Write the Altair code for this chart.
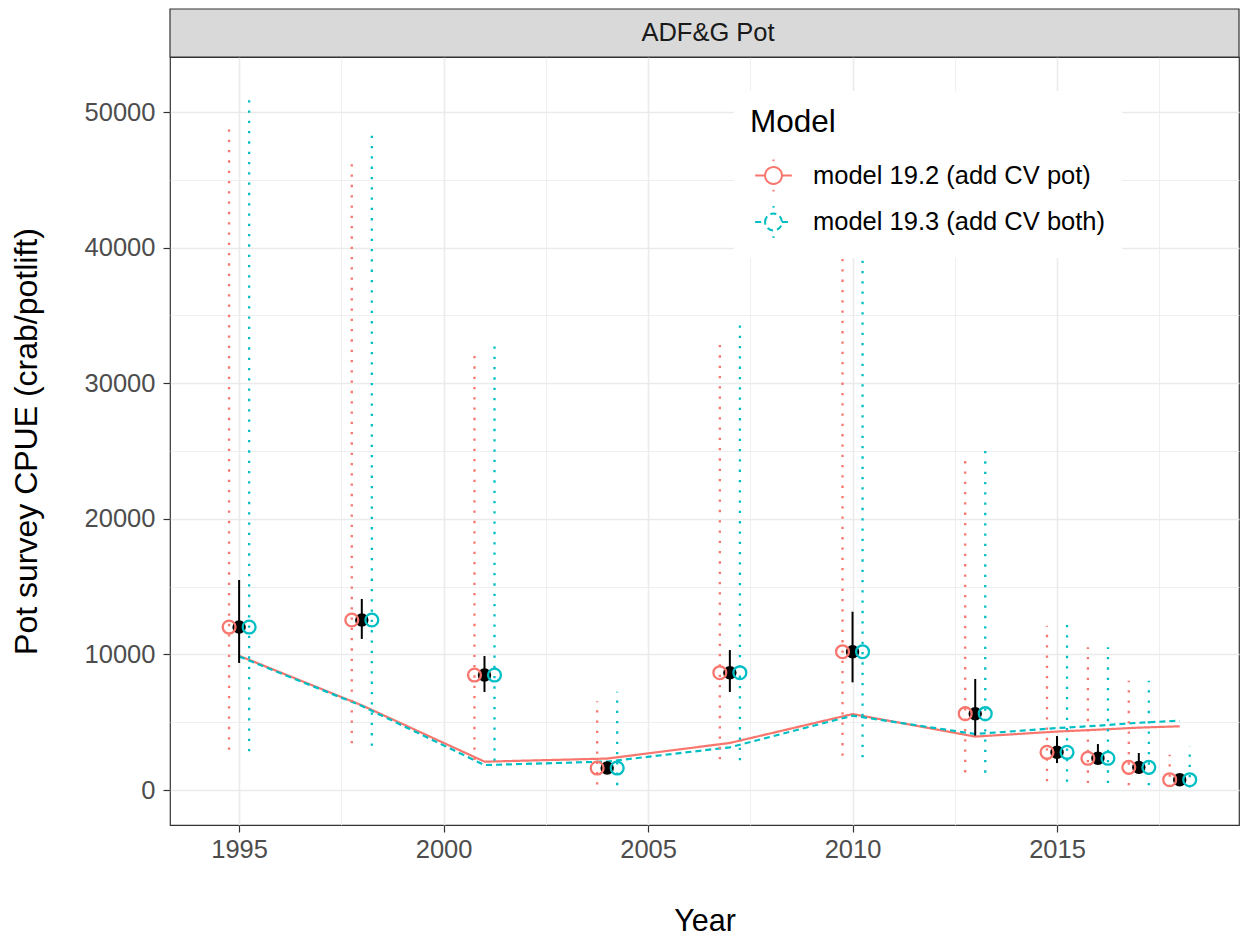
import altair as alt
import pandas as pd

FONT = "Liberation Sans"

panel_label = ["ADF&G Pot"]
model_names = ["model 19.2 (add CV pot)", "model 19.3 (add CV both)"]
model_colors = ["#F8766D", "#00BFC4"]
model_dodge = [-0.245, 0.245]

years = [1995, 1998, 2001, 2004, 2007, 2010, 2013, 2015, 2016, 2017, 2018]
obs = [12020, 12540, 8480, 1620, 8650, 10200, 5630, 2780, 2340, 1670, 760]
obs_lo = [9370, 11140, 7230, 1250, 7230, 7940, 4010, 1990, 1920, 1180, 560]
obs_hi = [15490, 14090, 9880, 2090, 10320, 13150, 8190, 3980, 3390, 2730, 1030]

pred_192 = [9900, 6250, 2090, 2320, 3470, 5600, 3940, 4310, 4450, 4600, 4700]
pred_193 = [9850, 6200, 1840, 2100, 3150, 5480, 4130, 4570, 4740, 4960, 5110]

ci_lo_192 = [2970, 3440, 2210, 400, 2260, 2530, 1300, 640, 520, 350, 220]
ci_hi_192 = [49200, 46530, 32520, 6540, 33300, 41100, 24790, 12120, 10520, 8060, 2600]
ci_lo_193 = [2850, 3270, 2160, 360, 2190, 2410, 1280, 610, 520, 350, 180]
ci_hi_193 = [51250, 48670, 33240, 7250, 34730, 43200, 25520, 12730, 10520, 8060, 3220]

x_ticks = [1995, 1997.5, 2000, 2002.5, 2005, 2007.5, 2010, 2012.5, 2015, 2017.5]
y_ticks = [0, 5000, 10000, 15000, 20000, 25000, 30000, 35000, 40000, 45000, 50000]
x_domain = [1993.31, 2019.45]
y_domain = [-2580, 54060]

# ---- tables ----
obs_df = pd.DataFrame({"year": years, "obs": obs, "lo": obs_lo, "hi": obs_hi})
rows = []
for name, dodge, pred, lo, hi in [
    (model_names[0], model_dodge[0], pred_192, ci_lo_192, ci_hi_192),
    (model_names[1], model_dodge[1], pred_193, ci_lo_193, ci_hi_193),
]:
    for i, yr in enumerate(years):
        rows.append({"model": name, "year": yr, "xd": yr + dodge,
                     "obs": obs[i], "pred": pred[i], "lo": lo[i], "hi": hi[i]})
mod_df = pd.DataFrame(rows)
strip_df = pd.DataFrame({"panel": panel_label})

W, H = 1069, 768
STRIP = 48
TXT = 25.5

xs = alt.Scale(domain=x_domain, nice=False, zero=False)
ys = alt.Scale(domain=y_domain, nice=False, zero=False)

x_axis = alt.Axis(
    values=x_ticks, format="d",
    labelExpr="datum.value % 5 === 0 ? datum.label : ''",
    gridWidth={"condition": {"test": "datum.value % 5 === 0", "value": 1.6}, "value": 0.8},
    tickOpacity={"condition": {"test": "datum.value % 5 === 0", "value": 1}, "value": 0},
    labelOverlap=False, labelFlush=False, labelPadding=5, titlePadding=44,
    titleFontSize=30.5,
)
y_axis = alt.Axis(
    values=y_ticks, format="d",
    labelExpr="datum.value % 10000 === 0 ? datum.label : ''",
    gridWidth={"condition": {"test": "datum.value % 10000 === 0", "value": 1.6}, "value": 0.8},
    tickOpacity={"condition": {"test": "datum.value % 10000 === 0", "value": 1}, "value": 0},
    labelOverlap=False, labelFlush=False, labelPadding=8, titlePadding=41,
    titleFontSize=32,
)

XT = "Year"
YT = "Pot survey CPUE (crab/potlift)"

def X(field):
    return alt.X(f"{field}:Q", scale=xs, axis=x_axis, title=XT)

def Y(field):
    return alt.Y(f"{field}:Q", scale=ys, axis=y_axis, title=YT)

color_scale = alt.Scale(domain=model_names, range=model_colors)
dash_scale = alt.Scale(domain=model_names, range=[[1, 0], [6, 4]])

SYM = ("M-1,0L-0.46,0M0.46,0L1,0"
       "M-0.46,0A0.46,0.46,0,1,1,0.46,0A0.46,0.46,0,1,1,-0.46,0"
       "M0,-0.87L0,-0.77M0,0.77L0,0.87")

legend = alt.Legend(
    orient="none", legendX=564, legendY=34, title="Model",
    titleFontSize=31.5, titleFontWeight="normal", titleColor="black", titleFont=FONT,
    titlePadding=17.5, labelFontSize=TXT, labelFont=FONT, labelColor="black",
    labelLimit=500,
    labelOffset=20, symbolType=SYM, symbolSize=1347, symbolStrokeWidth=2,
    symbolOffset=4, rowPadding=5.5, padding=16, fillColor="white",
    symbolFillColor="transparent",
)

def C():
    return alt.Color("model:N", scale=color_scale, legend=legend, title="Model")

base = alt.Chart(mod_df)

lines = base.mark_line(strokeWidth=2.2).encode(
    x=X("year"), y=Y("pred"),
    color=C(),
    strokeDash=alt.StrokeDash("model:N", scale=dash_scale, legend=legend, title="Model"),
)

ci = base.mark_rule(strokeWidth=2.3, strokeDash=[2.3, 8], strokeCap="butt").encode(
    x=X("xd"), y=Y("lo"), y2="hi:Q",
    color=C(),
)

obs_bar = alt.Chart(obs_df).mark_rule(color="black", strokeWidth=2).encode(
    x=X("year"), y=Y("lo"), y2="hi:Q",
)

obs_pt = alt.Chart(obs_df).mark_point(filled=True, color="black", size=180, opacity=1).encode(
    x=X("year"), y=Y("obs"),
)

circles = base.mark_point(filled=False, size=165, strokeWidth=2.3, opacity=1).encode(
    x=X("xd"), y=Y("obs"),
    color=C(),
)

strip_rect = alt.Chart(strip_df).mark_rect(fill="#D9D9D9", stroke="#333333", strokeWidth=1.2).encode(
    x=alt.value(0), x2=alt.value(W), y=alt.value(-STRIP), y2=alt.value(0),
)
strip_text = alt.Chart(strip_df).mark_text(fontSize=TXT, font=FONT, color="#1A1A1A", baseline="middle").encode(
    x=alt.value(709 - 171), y=alt.value(-STRIP / 2), text="panel:N",
)

chart = alt.layer(
    lines, ci, obs_bar, obs_pt, circles, strip_rect, strip_text
).properties(
    width=W, height=H,
    padding={"left": 2, "top": 0, "right": 0, "bottom": 0},
    background="white",
).configure_view(
    stroke="#333333", strokeWidth=1.2, fill="white",
).configure_axis(
    domain=False, grid=True, gridColor="#EBEBEB",
    tickColor="#333333", tickWidth=1.2, tickSize=7,
    labelFont=FONT, labelFontSize=TXT, labelColor="#4D4D4D",
    titleFont=FONT, titleFontWeight="normal", titleColor="black",
)

chart.save("out.html", embed_options={"renderer": "svg", "actions": False})
